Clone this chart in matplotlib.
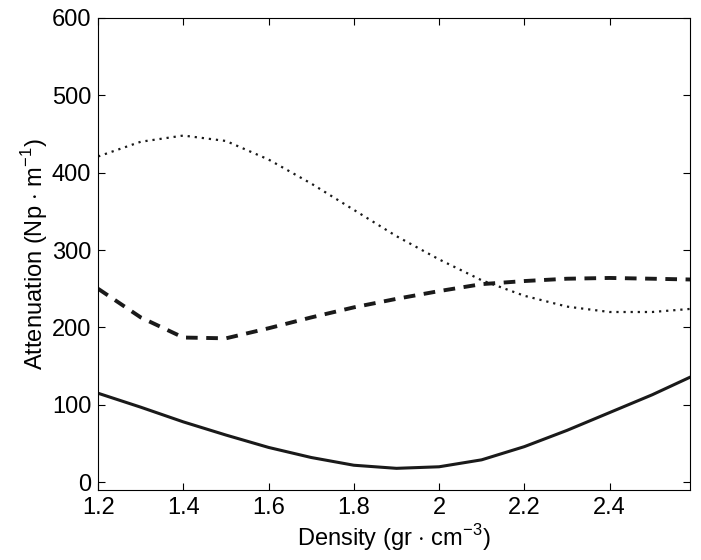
import matplotlib
matplotlib.use("Agg")
from matplotlib import pyplot as plt

plt.rcParams['font.family'] = ['Liberation Sans', 'DejaVu Sans']
plt.rcParams['mathtext.fontset'] = 'custom'
plt.rcParams['mathtext.rm'] = 'Liberation Sans'

density = [1.2, 1.3, 1.4, 1.5, 1.6, 1.7, 1.8, 1.9, 2.0, 2.1, 2.2, 2.3, 2.4, 2.5, 2.59]

solid_y = [115, 97, 78, 61, 45, 32, 22, 18, 20, 29, 46, 67, 90, 113, 136]
dashed_y = [250, 213, 187, 186, 199, 213, 226, 237, 247, 256, 260, 263, 264, 263, 262]
dotted_y = [421, 440, 448, 441, 417, 386, 352, 318, 288, 261, 241, 227, 220, 220, 224]

fig = plt.figure(figsize=(7.01, 5.60), dpi=100)
ax = fig.add_axes([0.14, 0.125, 0.845, 0.843])

ax.plot(density, solid_y, color="#1a1a1a", linewidth=2.2)
ax.plot(density, dashed_y, color="#1a1a1a", linewidth=2.8, linestyle=(0, (3, 2.2)))
ax.plot(density, dotted_y, color="#1a1a1a", linewidth=1.6, linestyle=(0, (1, 2.2)))

ax.set_xlim(1.2, 2.59)
ax.set_ylim(-10, 600)
ax.set_xticks([1.2, 1.4, 1.6, 1.8, 2.0, 2.2, 2.4])
ax.set_xticklabels(["1.2", "1.4", "1.6", "1.8", "2", "2.2", "2.4"])
ax.set_yticks([0, 100, 200, 300, 400, 500, 600])

ax.tick_params(direction="in", top=True, right=True, labelsize=17, length=5, width=0.8, pad=5)
for s in ax.spines.values():
    s.set_linewidth(0.8)

ax.set_xlabel(r"Density (gr $\cdot$ cm$^{-3}$)", fontsize=17, labelpad=2)
ax.set_ylabel(r"Attenuation (Np $\cdot$ m$^{-1}$)", fontsize=17, labelpad=1)

plt.savefig("out.png", dpi=100)
